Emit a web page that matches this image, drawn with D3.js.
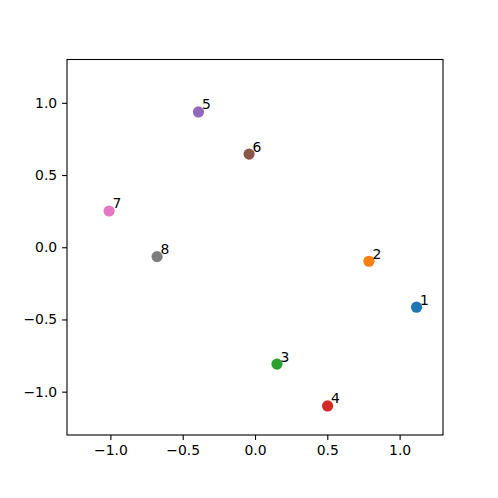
<!DOCTYPE html>
<html>
<head>
<meta charset="utf-8">
<script src="https://cdn.jsdelivr.net/npm/d3@7"></script>
<style>
  body { margin: 0; background: #fff; }
  text { font-family: "DejaVu Sans", sans-serif; }
</style>
</head>
<body>
<script>
// point data
var labels = ["1", "2", "3", "4", "5", "6", "7", "8"];
var xs = [1.117, 0.788, 0.152, 0.502, -0.391, -0.041, -1.009, -0.677];
var ys = [-0.415, -0.097, -0.809, -1.099, 0.937, 0.645, 0.251, -0.065];
var colors = ["#1f77b4", "#ff7f0e", "#2ca02c", "#d62728", "#9467bd", "#8c564b", "#e377c2", "#7f7f7f"];
var tickVals = [-1.0, -0.5, 0.0, 0.5, 1.0];

var margin = {top: 59.5, right: 55, bottom: 63, left: 67},
    width = 498 - margin.left - margin.right,
    height = 498 - margin.top - margin.bottom;

var x = d3.scaleLinear().domain([-1.3, 1.3]).range([0, width]);
var y = d3.scaleLinear().domain([-1.3, 1.3]).range([height, 0]);

var fmt = function(d) { return d3.format(".1f")(d).replace("-", "\u2212"); };

var svg = d3.select("body").append("svg")
  .attr("width", 498)
  .attr("height", 498)
  .append("g")
  .attr("transform", "translate(" + margin.left + "," + margin.top + ")");

// axes
var xAxis = svg.append("g")
  .attr("transform", "translate(0," + height + ")")
  .call(d3.axisBottom(x).tickValues(tickVals).tickFormat(fmt).tickSize(4.9).tickPadding(4.9));
var yAxis = svg.append("g")
  .call(d3.axisLeft(y).tickValues(tickVals).tickFormat(fmt).tickSize(4.9).tickPadding(4.9));

[xAxis, yAxis].forEach(function(a) {
  a.select(".domain").remove();
  a.selectAll("line").attr("stroke", "#000").attr("stroke-width", 1.1);
  a.selectAll("text").attr("font-size", "13.9px").attr("fill", "#000")
    .style("font-family", "'DejaVu Sans', sans-serif");
});

// frame
svg.append("rect")
  .attr("width", width)
  .attr("height", height)
  .attr("fill", "none")
  .attr("stroke", "#000")
  .attr("stroke-width", 1.1);

var data = labels.map(function(l, i) { return {label: l, x: xs[i], y: ys[i], c: colors[i]}; });

svg.selectAll(".dot")
  .data(data)
  .enter().append("circle")
  .attr("class", "dot")
  .attr("r", 5.6)
  .attr("cx", function(d) { return x(d.x); })
  .attr("cy", function(d) { return y(d.y); })
  .attr("fill", function(d) { return d.c; });

svg.selectAll(".lbl")
  .data(data)
  .enter().append("text")
  .attr("class", "lbl")
  .attr("x", function(d) { return x(d.x) + 3.5; })
  .attr("y", function(d) { return y(d.y) - 2.5; })
  .attr("font-size", "13.9px")
  .text(function(d) { return d.label; });
</script>
</body>
</html>
